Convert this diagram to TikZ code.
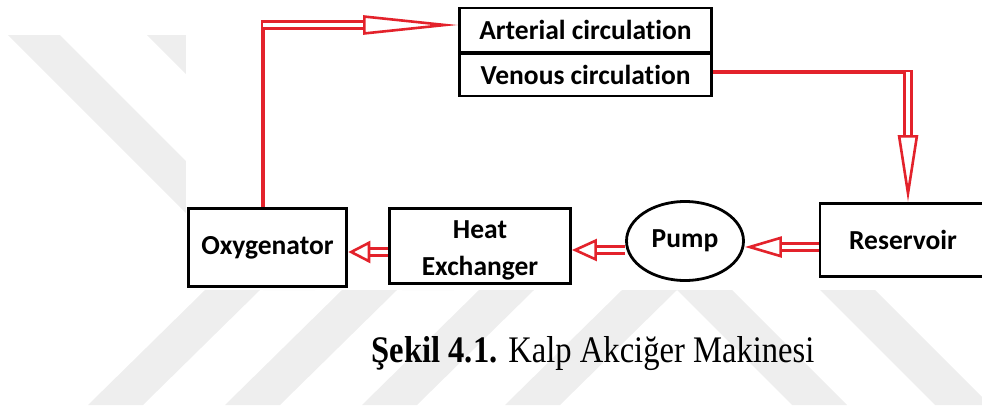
\documentclass[tikz,border=0pt]{standalone}
\usepackage{fontspec}
\setmainfont{Liberation Serif}
\newfontfamily\calibri[Ligatures=NoCommon]{Carlito}
\usepackage[HTML]{xcolor}
\usepackage{tikz}
\usetikzlibrary{positioning, arrows.meta, shapes.geometric}

\definecolor{flowred}{HTML}{E3222B}
\definecolor{markgray}{HTML}{EEEEEE}

\tikzset{
  unit/.style={draw, line width=2.8pt, inner sep=0pt,
    font=\calibri\bfseries\fontsize{27.5}{37}\selectfont, align=center},
  pipe/.style={draw=flowred, line width=3.2pt},
  flow/.style={draw=flowred, line width=2.7pt, double=white, double distance=4.5pt},
  band/.style={fill=markgray, draw=none}
}

\begin{document}
\begin{tikzpicture}[x=1pt, y=-1pt]
\useasboundingbox (0,0) rectangle (982,410);

% watermark bands
\fill[band] (8,35) -- (60,35) -- (315,290) -- (263,290) -- cycle;
\fill[band] (147,35) -- (199,35) -- (454,290) -- (402,290) -- cycle;
\foreach \b in {88,225,362,505}
  \fill[band] (\b,405) -- (\b+55,405) -- (\b+172,290) -- (\b+117,290) -- cycle;
\foreach \c in {677,820}
  \fill[band] (\c,290) -- (\c+55,290) -- (\c+170,405) -- (\c+115,405) -- cycle;
\fill[white] (186,0) rectangle (982,290);

% units
\node[unit, line width=3.6pt, minimum width=158pt, minimum height=78pt] (oxy) at (267.5,247.5) {Oxygenator};
\node[unit, minimum width=181pt, minimum height=75pt] (heat) at (480,246) {\rule{0pt}{27pt}Heat\\Exchanger};
\node[unit, ellipse, minimum width=117pt, minimum height=79pt] (pump) at (685,241) {Pump};
\node[unit, minimum width=166pt, minimum height=73pt] (res) at (903,240) {Reservoir};
\node[unit, minimum width=252pt, minimum height=44pt] (art) at (585.5,30) {Arterial circulation};
\node[unit, minimum width=252pt, minimum height=42pt] (ven) at (585.5,75) {Venous circulation};

% circuit
\coordinate (bendA) at (263,25);
\coordinate (bendB) at (908,72);
\draw[pipe] (bendA |- oxy.north) -- ([yshift=5pt]bendA);
\draw[flow, -{Triangle[open, length=95pt, width=19pt, line width=2.6pt]}] (bendA) -- (bendA -| art.west);
\draw[pipe] (ven.east |- bendB) -- ([xshift=5pt]bendB);
\draw[flow, -{Triangle[open, length=67pt, width=20pt, line width=2.6pt]}] (bendB) -- (bendB |- res.north);
\draw[flow, -{Triangle[open, length=37pt, width=21pt, line width=2.6pt]}] ([yshift=-7pt]res.west) -- ([yshift=-7pt]res.west -| pump.east);
\draw[flow, -{Triangle[open, length=25pt, width=22pt, line width=2.6pt]}] ([yshift=-9pt]pump.west) -- ([yshift=-9pt]pump.west -| heat.east);
\draw[flow, -{Triangle[open, length=22pt, width=22pt, line width=2.6pt]}] ([yshift=-6pt]heat.west) -- ([yshift=-6pt]heat.west -| oxy.east);

% caption
\node[anchor=base, yscale=1.15, font=\fontsize{32.6}{38}\selectfont] (cap) at (593,362) {\textbf{Şekil 4.1.} Kalp Akciğer Makinesi};
\end{tikzpicture}
\end{document}
